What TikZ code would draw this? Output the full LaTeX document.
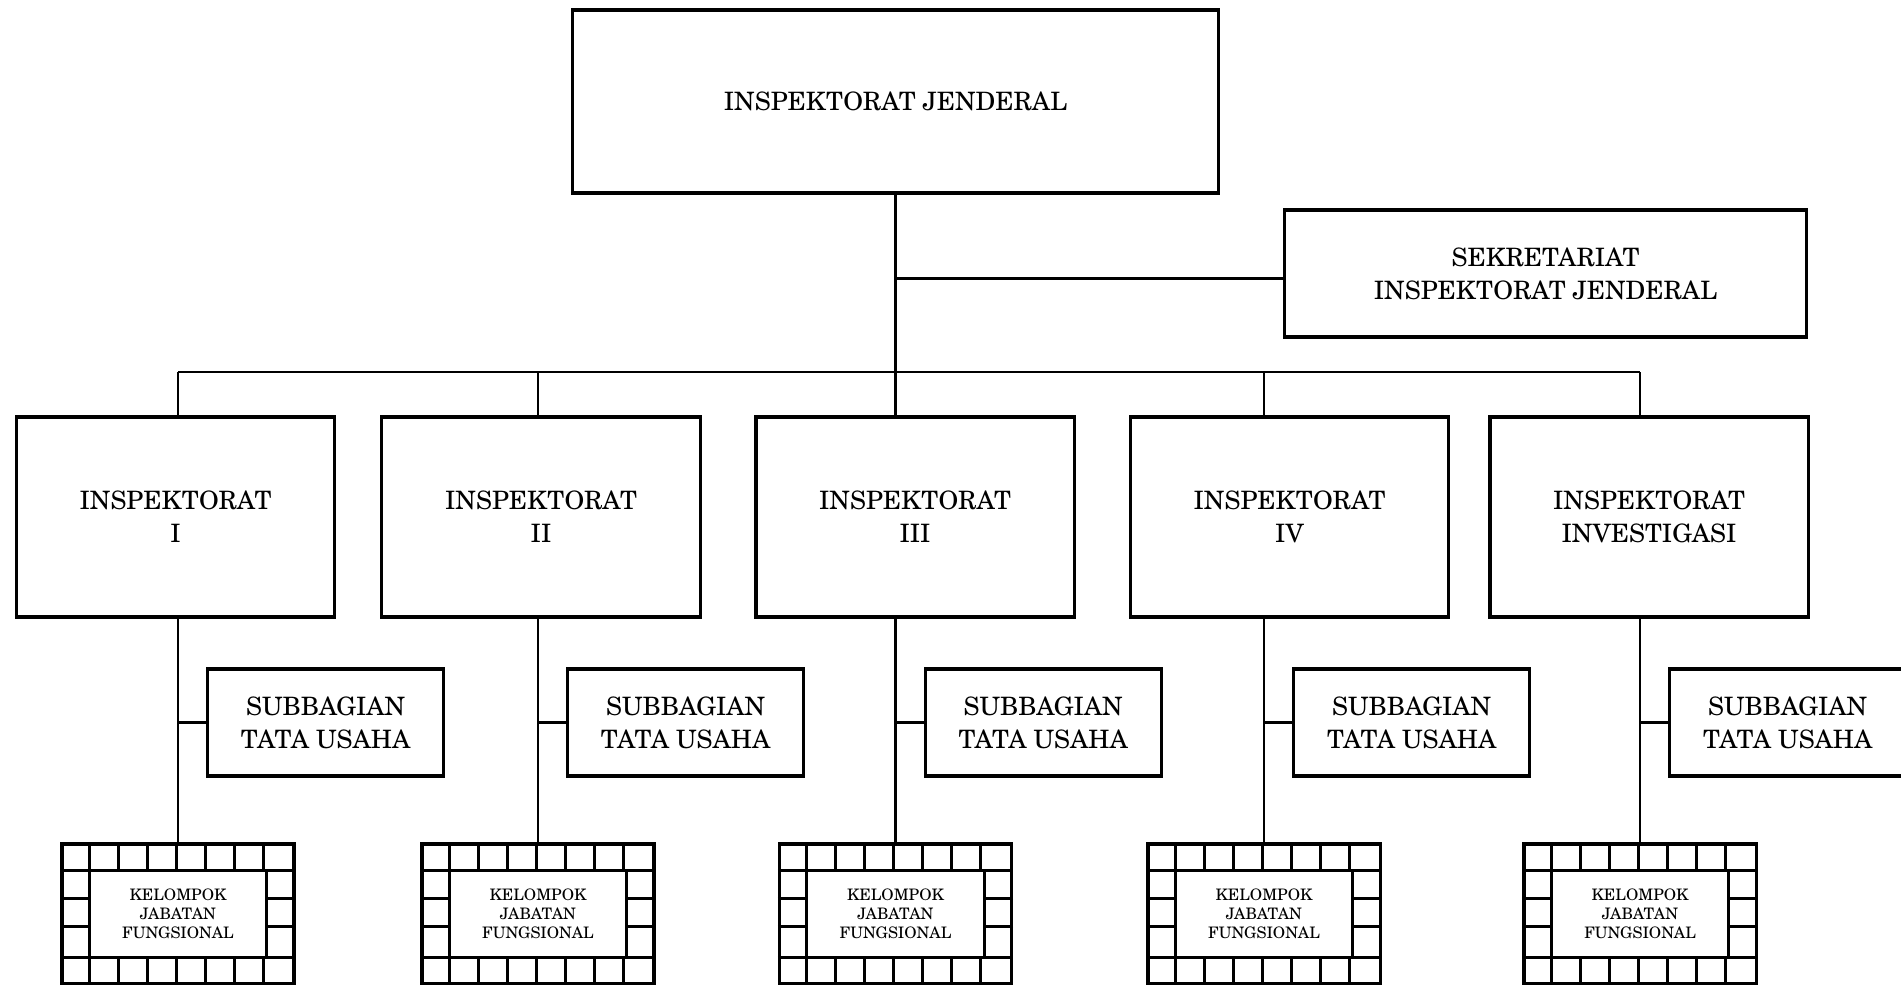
\documentclass[tikz,border=0pt]{standalone}
\usepackage{fontspec}
\setmainfont{TeX Gyre Schola}
\usetikzlibrary{positioning}

\tikzset{
	unit/.style={draw, line width=0.9pt, align=center, inner sep=0pt, font=\fontsize{7.2}{9.4}\selectfont},
	kjf/.style={draw, line width=0.9pt, inner sep=0pt, minimum width=2.32cm, minimum height=1.40cm},
	cell/.style={line width=0.9pt},
	link/.style={line width=0.7pt},
}

\begin{document}
\begin{tikzpicture}[x=0.01cm, y=-0.01cm]
		\useasboundingbox (0,0) rectangle (1901,984);

		\node[unit, minimum width=6.45cm, minimum height=1.83cm] (ij) at (895.5,101.5) {INSPEKTORAT JENDERAL};
		\node[unit, minimum width=5.21cm, minimum height=1.27cm] (sek) at (1545.5,273.5) {SEKRETARIAT\\INSPEKTORAT JENDERAL};

		\coordinate (bus) at (895.5,372);
		\coordinate (sekin) at ([shift={(0,5)}]sek.west);
		\draw[link] (ij.south) -- (bus);
		\draw[link] (ij.south |- sekin) -- (sekin);

		% one column per inspektorat: unit, subbagian, kelompok
		\foreach \n/\cx/\bx/\lab in {1/178/175.5/I, 2/538/541/II, 3/895.5/915/III, 4/1264/1289.5/IV, 5/1640/1649/INVESTIGASI} {
			\node[unit, minimum width=3.18cm, minimum height=2cm] (i\n) at (\bx,517) {INSPEKTORAT\\\lab};
			\node[unit, minimum width=2.36cm, minimum height=1.07cm, anchor=west] (s\n) at (\cx+28,722.5) {SUBBAGIAN\\TATA USAHA};
			\node[kjf] (k\n) at (\cx,914) {};
			\node[align=center, font=\fontsize{4.5}{5.4}\selectfont] (kt\n) at (k\n) {KELOMPOK\\JABATAN\\FUNGSIONAL};

			% cells round the kelompok box
			\foreach \i in {1,...,7} {
				\draw[cell] ([shift={(\i*29,0)}]k\n.north west) -- ++(0,28);
				\draw[cell] ([shift={(\i*29,0)}]k\n.south west) -- ++(0,-28);
			}
			\draw[cell] ([shift={(0,28)}]k\n.north west) -- ([shift={(0,28)}]k\n.north east);
			\draw[cell] ([shift={(0,-28)}]k\n.south west) -- ([shift={(0,-28)}]k\n.south east);
			\draw[cell] ([shift={(29,28)}]k\n.north west) -- ([shift={(29,-28)}]k\n.south west);
			\draw[cell] ([shift={(-29,28)}]k\n.north east) -- ([shift={(-29,-28)}]k\n.south east);
			\foreach \j in {2,3} {
				\draw[cell] ([shift={(0,\j*28)}]k\n.north west) -- ++(29,0);
				\draw[cell] ([shift={(0,\j*28)}]k\n.north east) -- ++(-29,0);
			}

			\draw[link] (k\n.north |- bus) -- (k\n.north |- i\n.north);
			\draw[link] (k\n.north |- i\n.south) -- (k\n.north);
			\draw[link] (k\n.north |- s\n.west) -- (s\n.west);
		}

		\draw[link] (k1.north |- bus) -- (k5.north |- bus);
	\end{tikzpicture}
\end{document}
